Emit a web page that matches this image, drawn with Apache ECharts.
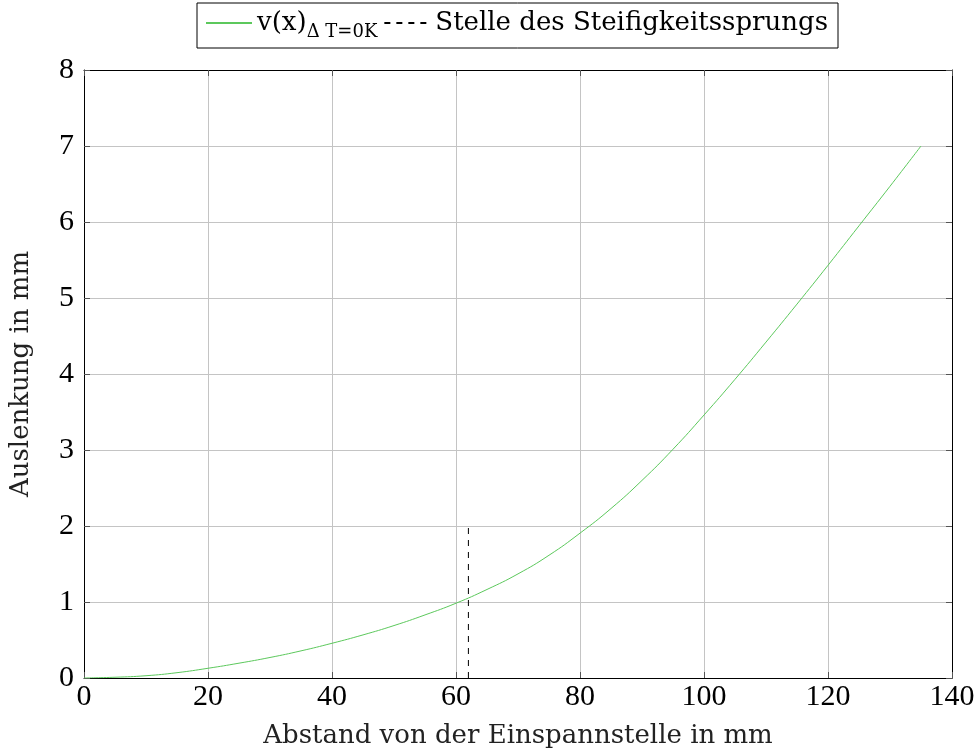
<!DOCTYPE html>
<html>
<head>
<meta charset="utf-8">
<script src="https://cdn.jsdelivr.net/npm/echarts@6/dist/echarts.min.js"></script>
<style>
  html, body { margin: 0; padding: 0; background: #fff; }
  #chart { width: 974px; height: 753px; }
</style>
</head>
<body>
<div id="chart"></div>
<script>
// deflection curve
const xValues = [0, 5, 10, 15, 20, 25, 30, 35, 40, 45, 50, 55, 60, 65, 70, 75, 80, 85, 90, 95, 100, 105, 110, 115, 120, 125, 130, 135];
const yValues = [0, 0.01, 0.03, 0.07, 0.128, 0.195, 0.27, 0.357, 0.457, 0.567, 0.69, 0.83, 0.984, 1.165, 1.37, 1.615, 1.906, 2.23, 2.6, 3.01, 3.46, 3.93, 4.42, 4.92, 5.43, 5.95, 6.47, 7.0];
// position of the stiffness jump
const jumpX = [62, 62];
const jumpY = [0, 2];

const digits = "'Liberation Serif', serif";
const serif = "'DejaVu Serif', 'Liberation Serif', serif";
const green = '#5cc85c';

const chart = echarts.init(document.getElementById('chart'));

const tickStyle = { show: true, inside: true, length: 6, lineStyle: { color: '#555', width: 1 } };
const frameLine = { show: true, onZero: false, lineStyle: { color: '#000', width: 1 } };

chart.setOption({
    animation: false,
    textStyle: { fontFamily: serif },
    grid: { left: 84, right: 22, top: 70, bottom: 75, outerBoundsMode: 'none', containLabel: false },
    legend: {
        top: 3,
        left: 197,
        padding: [7, 10, 7, 8],
        borderColor: '#000',
        borderWidth: 1,
        borderRadius: 0,
        itemWidth: 46,
        itemGap: 6,
        itemHeight: 14,
        itemStyle: { opacity: 0 },
        textStyle: {
            fontFamily: serif,
            fontSize: 26,
            color: '#000',
            rich: {
                sub: { fontSize: 18, verticalAlign: 'bottom', padding: [18, 0, 0, 0], fontFamily: serif, color: '#000' }
            }
        },
        formatter: function (name) {
            if (name === 'v') return 'v(x){sub|Δ T=0K}';
            return name;
        },
        data: ['v', 'Stelle des Steifigkeitssprungs']
    },
    xAxis: [
        {
            type: 'value', min: 0, max: 140, interval: 20,
            name: 'Abstand von der Einspannstelle in mm',
            nameLocation: 'middle', nameGap: 45,
            nameTextStyle: { fontFamily: serif, fontSize: 26, color: '#222' },
            axisLine: frameLine,
            axisTick: tickStyle,
            axisLabel: { fontFamily: digits, fontSize: 30, color: '#000', margin: 4 },
            splitLine: { show: true, lineStyle: { color: '#c4c4c4', width: 1 } }
        },
        {
            type: 'value', min: 0, max: 140, interval: 20, position: 'top',
            axisLine: frameLine, axisTick: tickStyle,
            axisLabel: { show: false }, splitLine: { show: false }
        }
    ],
    yAxis: [
        {
            type: 'value', min: 0, max: 8, interval: 1,
            name: 'Auslenkung in mm',
            nameLocation: 'middle', nameGap: 50,
            nameTextStyle: { fontFamily: serif, fontSize: 26, color: '#222' },
            axisLine: frameLine,
            axisTick: tickStyle,
            axisLabel: { fontFamily: digits, fontSize: 30, color: '#000', margin: 10 },
            splitLine: { show: true, lineStyle: { color: '#c4c4c4', width: 1 } }
        },
        {
            type: 'value', min: 0, max: 8, interval: 1, position: 'right',
            axisLine: frameLine, axisTick: tickStyle,
            axisLabel: { show: false }, splitLine: { show: false }
        }
    ],
    series: [
        {
            name: 'v',
            type: 'line',
            smooth: true,
            symbol: 'none',
            lineStyle: { color: green, width: 1 },
            itemStyle: { color: green },
            data: xValues.map((x, i) => [x, yValues[i]])
        },
        {
            name: 'Stelle des Steifigkeitssprungs',
            type: 'line',
            symbol: 'none',
            lineStyle: { color: '#000', width: 1, type: [6, 6] },
            itemStyle: { color: '#000' },
            data: jumpX.map((x, i) => [x, jumpY[i]])
        }
    ]
});
</script>
</body>
</html>
